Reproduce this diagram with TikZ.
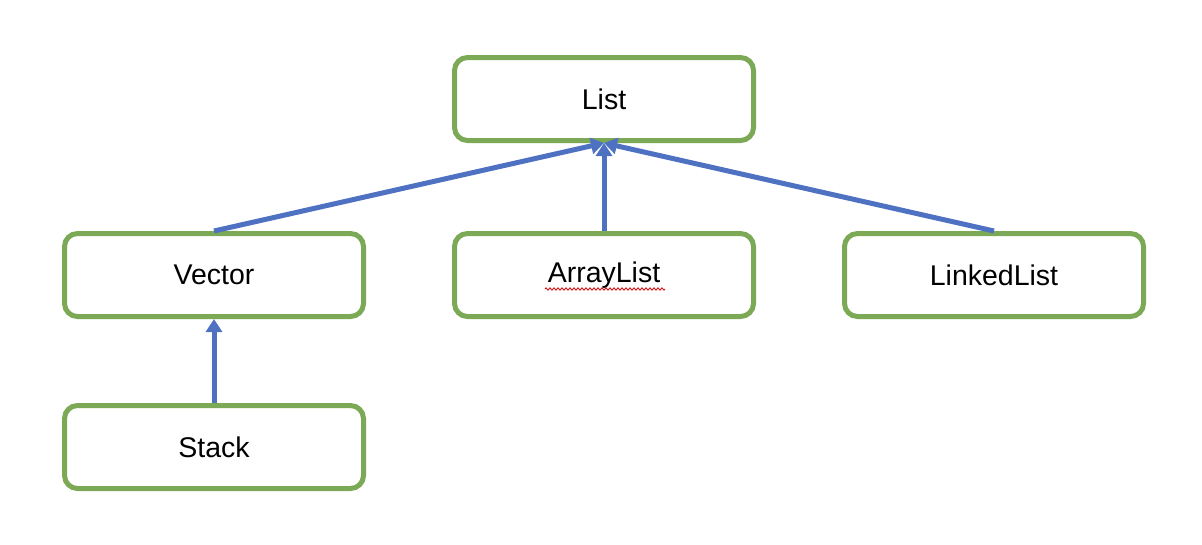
\documentclass[tikz,border=0pt]{standalone}
\usepackage{fontspec}
\setmainfont{Liberation Sans}
\usetikzlibrary{arrows.meta,decorations.pathmorphing}
\definecolor{boxgreen}{HTML}{7BA955}
\definecolor{arrowblue}{HTML}{4E71C1}
\begin{document}
\begin{tikzpicture}[x=1pt,y=-1pt,
  classbox/.style={draw=boxgreen,line width=5pt,rounded corners=13pt,minimum width=299pt,minimum height=83pt,inner sep=0pt,font=\fontsize{28.5}{34}\selectfont,fill=white},
  inherit/.style={draw=arrowblue,line width=5pt,-{Triangle[width=16pt,length=13pt]}}]
\useasboundingbox (0,0) rectangle (1202,544);
\node[classbox] (list) at (604,99) {List};
\node[classbox] (vector) at (214,275) {Vector};
\node[classbox] (arraylist) at (604,275) {ArrayList};
\node[classbox] (linkedlist) at (994,275) {LinkedList};
\node[classbox] (stack) at (214,447) {Stack};
\coordinate (tip) at (list.south);
\draw[inherit] (vector.north) -- (tip);
\draw[inherit] (linkedlist.north) -- (tip);
\draw[inherit] (arraylist.north) -- (tip);
\draw[inherit] (stack.north) -- (vector.south);
\draw[red!85!black,line width=0.8pt,decorate,decoration={zigzag,amplitude=1.2pt,segment length=4pt}]
  ([xshift=-59pt,yshift=-14pt]arraylist.center) -- ([xshift=61pt,yshift=-14pt]arraylist.center);
\end{tikzpicture}
\end{document}
